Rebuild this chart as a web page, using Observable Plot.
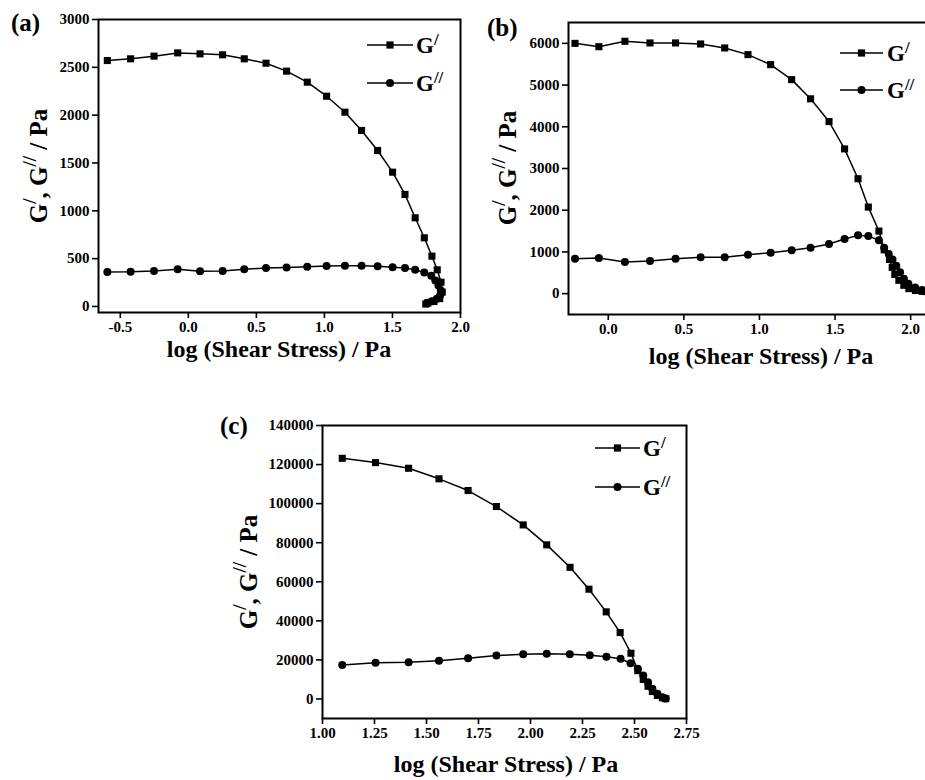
<!DOCTYPE html>
<html><head><meta charset="utf-8">
<script src="https://cdn.jsdelivr.net/npm/d3@7"></script>
<script src="https://cdn.jsdelivr.net/npm/@observablehq/plot@0.6"></script>
<style>
html,body{margin:0;padding:0;background:#fff;overflow:hidden;}
#wrap{position:relative;width:925px;height:780px;overflow:hidden;background:#fff;}
#wrap svg text{font-family:'Liberation Serif','Times New Roman',serif;font-weight:bold;}
</style></head><body><div id="wrap"></div>
<script>
// ---------- Panel (a) ----------
const aStorageX = [-0.595,-0.424,-0.252,-0.078,0.086,0.252,0.411,0.571,0.722,0.874,1.016,1.151,1.273,1.391,1.501,1.592,1.667,1.734,1.790,1.829,1.857,1.866,1.847,1.805,1.760,1.745];
const aStorageG = [2571,2589,2617,2651,2641,2631,2589,2543,2460,2345,2198,2031,1840,1631,1404,1171,927,718,526,383,254,150,82,52,35,25];
const aLossX = [-0.595,-0.424,-0.252,-0.078,0.086,0.252,0.411,0.571,0.722,0.874,1.016,1.151,1.273,1.391,1.501,1.592,1.667,1.734,1.785,1.815,1.838,1.855,1.850,1.826,1.790,1.755];
const aLossG = [360,362,372,390,369,372,390,401,408,415,422,425,425,420,411,401,383,355,320,272,220,167,115,80,55,40];
const aXTicks = [-0.5,0.0,0.5,1.0,1.5,2.0];
const aYTicks = [0,500,1000,1500,2000,2500,3000];

// ---------- Panel (b) ----------
const bStorageX = [-0.220,-0.062,0.110,0.276,0.445,0.611,0.770,0.924,1.074,1.213,1.338,1.460,1.563,1.652,1.720,1.790,1.825,1.860,1.878,1.895,1.922,1.955,1.988,2.032,2.077,2.100];
const bStorageG = [6000,5920,6050,6010,6010,5985,5890,5730,5490,5130,4670,4125,3470,2755,2075,1500,1050,820,630,460,320,200,120,75,55,50];
const bLossX = [-0.220,-0.062,0.110,0.276,0.445,0.611,0.770,0.924,1.074,1.213,1.338,1.460,1.563,1.652,1.720,1.790,1.825,1.855,1.880,1.905,1.930,1.955,1.985,2.030,2.075,2.100];
const bLossG = [838,854,758,782,838,870,870,934,982,1038,1101,1189,1309,1397,1381,1277,1100,950,820,670,510,360,240,145,85,70];
const bXTicks = [0.0,0.5,1.0,1.5,2.0];
const bYTicks = [0,1000,2000,3000,4000,5000,6000];

// ---------- Panel (c) ----------
const cStorageX = [1.095,1.255,1.414,1.560,1.700,1.836,1.965,2.078,2.190,2.281,2.364,2.431,2.483,2.516,2.542,2.565,2.586,2.610,2.634,2.650];
const cStorageG = [123200,121000,118100,112700,106700,98500,89100,78900,67400,56200,44600,34000,23400,14500,10000,6500,3800,1800,600,150];
const cLossX = [1.095,1.255,1.414,1.560,1.700,1.836,1.965,2.078,2.189,2.285,2.365,2.433,2.481,2.516,2.542,2.565,2.586,2.610,2.634,2.650];
const cLossG = [17400,18600,18800,19600,20800,22200,22900,23100,22900,22400,21600,20600,18300,15500,12000,8600,5200,2700,900,200];
const cXTicks = [1.00,1.25,1.50,1.75,2.00,2.25,2.50,2.75];
const cYTicks = [0,20000,40000,60000,80000,100000,120000,140000];

const FONT = "Liberation Serif, Times New Roman, serif";
const wrap = document.getElementById("wrap");

function rows(xs, ys){ return xs.map((x,i)=>({x, y: ys[i]})); }

// parts: [text, isSuperscript]; baseline restored on the following part via dy
function supText(sel, parts, size, supSize, shift){
  let pending = 0;
  parts.forEach(([t, sup])=>{
    const sp = sel.append("tspan").attr("font-size", sup ? supSize : size).text(t);
    if (sup) { sp.attr("dy", pending - shift); pending = shift; }
    else { if (pending) sp.attr("dy", pending); pending = 0; }
  });
}

function panel(cfg){
  const storage = rows(cfg.sx, cfg.sy);
  const loss = rows(cfg.lx, cfg.ly);
  const axisText = {fontFamily: FONT, fontSize: 15, fontWeight: "bold"};
  const svg = Plot.plot({
    width: cfg.width, height: cfg.height,
    marginLeft: cfg.ml, marginRight: cfg.mr, marginTop: cfg.mt, marginBottom: cfg.mb,
    style: {fontFamily: FONT, fontSize: "15px", fontWeight: "bold", background: "transparent", overflow: "visible", color: "black"},
    x: {domain: cfg.xd},
    y: {domain: cfg.yd},
    marks: [
      Plot.axisX({ticks: cfg.xt, tickFormat: cfg.xf, tickSize: 6, tickPadding: 3, label: null, strokeWidth: 1.6, ...axisText}),
      Plot.axisY({ticks: cfg.yt, tickFormat: cfg.yf, tickSize: 6, tickPadding: 3, label: null, strokeWidth: 1.6, ...axisText}),
      Plot.line(storage, {x: "x", y: "y", stroke: "black", strokeWidth: 1.5}),
      Plot.line(loss, {x: "x", y: "y", stroke: "black", strokeWidth: 1.5}),
      Plot.dot(storage, {x: "x", y: "y", symbol: "square", r: 4, fill: "black"}),
      Plot.dot(loss, {x: "x", y: "y", symbol: "circle", r: 4, fill: "black"}),
      Plot.frame({stroke: "black", strokeWidth: 2})
    ]
  });
  svg.style.position = "absolute";
  svg.style.left = cfg.left + "px";
  svg.style.top = cfg.top + "px";
  svg.style.maxWidth = "none";
  const s = d3.select(svg);
  // panel label
  s.append("text").attr("x", cfg.lab[0]).attr("y", cfg.lab[1]).attr("text-anchor", "start")
    .attr("font-family", FONT).attr("font-weight", "bold").attr("font-size", 25).text(cfg.label);
  // x title
  s.append("text").attr("x", cfg.xtitle[0]).attr("y", cfg.xtitle[1]).attr("text-anchor", "middle")
    .attr("font-family", FONT).attr("font-weight", "bold").attr("font-size", 24)
    .text("log (Shear Stress) / Pa");
  // y title
  const yt = s.append("text")
    .attr("transform", `translate(${cfg.ytitle[0]},${cfg.ytitle[1]}) rotate(-90)`)
    .attr("text-anchor", "middle").attr("dominant-baseline", "central")
    .attr("font-family", FONT).attr("font-weight", "bold").attr("font-size", 25);
  supText(yt, [["G",false],["/",true],[", G",false],["//",true],[" / Pa",false]], 25, 19, 9);
  // legend
  const [lx1, lx2, tx, y1, y2] = cfg.leg;
  [[y1,"square","/"],[y2,"circle","//"]].forEach(([yy, sym, sup])=>{
    s.append("line").attr("x1", lx1).attr("x2", lx2).attr("y1", yy).attr("y2", yy)
      .attr("stroke", "black").attr("stroke-width", 1.5);
    if (sym === "square") {
      s.append("rect").attr("x", (lx1+lx2)/2-3.6).attr("y", yy-3.6).attr("width", 7.2).attr("height", 7.2).attr("fill", "black");
    } else {
      s.append("circle").attr("cx", (lx1+lx2)/2).attr("cy", yy).attr("r", 4).attr("fill", "black");
    }
    const t = s.append("text").attr("x", tx).attr("y", yy+8).attr("text-anchor", "start")
      .attr("font-family", FONT).attr("font-weight", "bold").attr("font-size", 23);
    supText(t, [["G",false],[sup,true]], 23, 17, 8);
  });
  wrap.appendChild(svg);
}

const f1 = d => d.toFixed(1);
const f2 = d => d.toFixed(2);
const f0 = d => String(d);

panel({left: 0, top: 0, width: 470, height: 375, ml: 98, mr: 10, mt: 19, mb: 63,
  xd: [-0.66, 2.0], yd: [-63, 3000], xt: aXTicks, yt: aYTicks, xf: f1, yf: f0,
  sx: aStorageX, sy: aStorageG, lx: aLossX, ly: aLossG,
  label: "(a)", lab: [11, 31], xtitle: [279, 357], ytitle: [38, 166],
  leg: [367, 413, 416, 45, 83]});

panel({left: 470, top: 0, width: 490, height: 375, ml: 98, mr: 6, mt: 22, mb: 61,
  xd: [-0.263, 2.29], yd: [-500, 6500], xt: bXTicks, yt: bYTicks, xf: f1, yf: f0,
  sx: bStorageX, sy: bStorageG, lx: bLossX, ly: bLossG,
  label: "(b)", lab: [17, 36], xtitle: [291, 364], ytitle: [37, 168],
  leg: [370, 413, 417, 53, 90]});

panel({left: 200, top: 400, width: 500, height: 380, ml: 122, mr: 14, mt: 25, mb: 62,
  xd: [1.0, 2.75], yd: [-10000, 140000], xt: cXTicks, yt: cYTicks, xf: f2, yf: f0,
  sx: cStorageX, sy: cStorageG, lx: cLossX, ly: cLossG,
  label: "(c)", lab: [20, 34], xtitle: [306, 372], ytitle: [48, 172],
  leg: [395, 440, 443, 48, 87]});
</script>
</body></html>
